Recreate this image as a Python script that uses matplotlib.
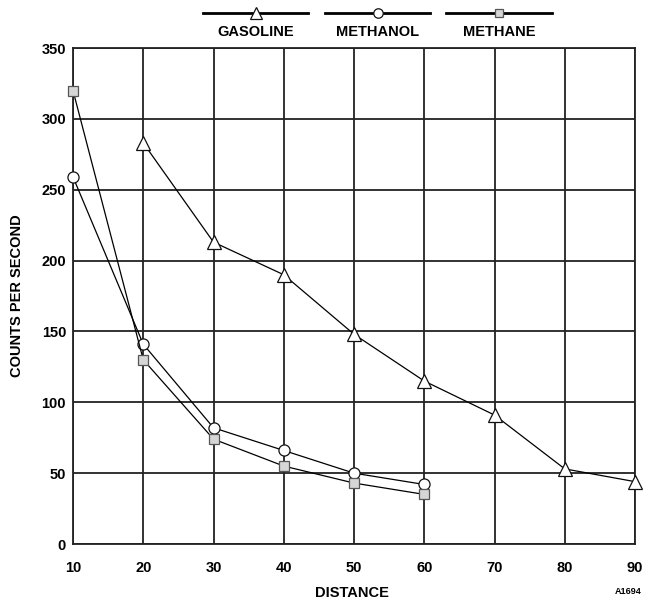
import matplotlib.pyplot as plt
from matplotlib.lines import Line2D

plt.rcParams['font.family'] = ['Liberation Sans', 'DejaVu Sans']
plt.rcParams['font.weight'] = 'bold'

# data
distance = [10, 20, 30, 40, 50, 60, 70, 80, 90]
gasoline_x = [20, 30, 40, 50, 60, 70, 80, 90]
gasoline = [283, 213, 190, 148, 115, 91, 53, 44]
methanol_x = [10, 20, 30, 40, 50, 60]
methanol = [259, 141, 82, 66, 50, 42]
methane_x = [10, 20, 30, 40, 50, 60]
methane = [320, 130, 74, 55, 43, 35]
y_ticks = [0, 50, 100, 150, 200, 250, 300, 350]

fig = plt.figure(figsize=(6.51, 6.0), dpi=100)
ax = fig.add_axes([73 / 651, 1 - 544 / 600, 562 / 651, 496 / 600])

grid_c = '#222222'
styles = [
    (gasoline_x, gasoline, '^', 'white', '#111111', 9.5, 'GASOLINE'),
    (methanol_x, methanol, 'o', 'white', '#111111', 8, 'METHANOL'),
    (methane_x, methane, 's', '#d6d6d6', '#555555', 6.5, 'METHANE'),
]
for xs, ys, m, fc, ec, ms, lab in styles:
    ax.plot(xs, ys, color='black', lw=0.9, marker=m, ms=ms,
            markerfacecolor=fc, markeredgecolor=ec, markeredgewidth=0.9,
            clip_on=False, zorder=3)

ax.set_xlim(10, 90)
ax.set_ylim(0, 350)
ax.set_xticks(distance)
ax.set_yticks(y_ticks)
ax.grid(True, color=grid_c, lw=1.3)
for s in ax.spines.values():
    s.set_color(grid_c)
    s.set_linewidth(1.3)
ax.tick_params(length=0, labelsize=10.5)
ax.tick_params(axis='x', pad=12)
ax.tick_params(axis='y', pad=5)

fig.text(17 / 651, 1 - 296 / 600, 'COUNTS PER SECOND', rotation=90,
         ha='center', va='center', fontsize=10.5, fontweight='bold')
fig.text(352 / 651, 1 - 593 / 600, 'DISTANCE', ha='center', va='center',
         fontsize=10.5, fontweight='bold')
fig.text(642 / 651, 1 - 592 / 600, 'A1694', ha='right', va='center',
         fontsize=6.5, fontweight='bold')

# legend: line with marker above, label below
legend_pos = [(203, 308), (325, 430), (446, 552)]
for (x0, x1), (xs, ys, m, fc, ec, ms, lab) in zip(legend_pos, styles):
    fy = 1 - 13 / 600
    fig.add_artist(Line2D([x0 / 651, x1 / 651], [fy, fy], color='black', lw=2,
                          transform=fig.transFigure))
    xc = (x0 + x1) / 2 / 651
    fig.add_artist(Line2D([xc], [fy], marker=m, ms=ms * 0.85, color='black',
                          markerfacecolor=fc, markeredgecolor=ec,
                          markeredgewidth=0.9, transform=fig.transFigure))
    fig.text(xc, 1 - 32 / 600, lab, ha='center', va='center', fontsize=10.5,
             fontweight='bold')

fig.savefig('out.png', dpi=100)
